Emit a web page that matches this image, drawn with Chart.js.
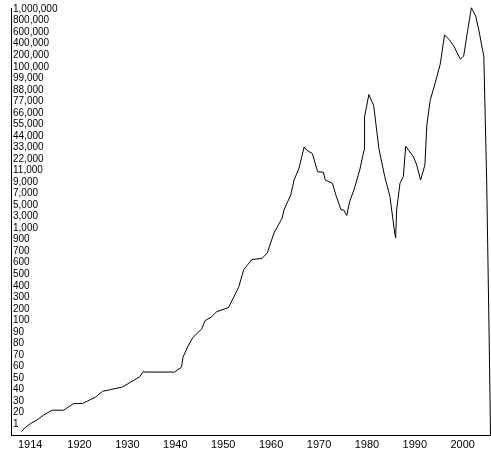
<!DOCTYPE html>
<html>
<head>
<meta charset="utf-8">
<script src="https://cdn.jsdelivr.net/npm/chart.js@4"></script>
<style>
  html, body { margin: 0; padding: 0; background: #fff; }
  #wrap { width: 491px; height: 451px; }
</style>
</head>
<body>
<div id="wrap"><canvas id="chart"></canvas></div>
<script>
// axis levels: the y axis steps through these values evenly (first and last are unlabelled)
const levels = [0, 1, 20, 30, 40, 50, 60, 70, 80, 90, 100, 200, 300, 400, 500, 600, 700, 900,
  1000, 3000, 5000, 7000, 9000, 11000, 22000, 33000, 44000, 55000, 66000, 77000, 88000, 99000,
  100000, 200000, 400000, 600000, 800000, 1000000, 1200000];
const xTicks = [1914, 1920, 1930, 1940, 1950, 1960, 1970, 1980, 1990, 2000];

const years = [1907.9, 1908.6, 1910.0, 1911.1, 1912.5, 1914.3, 1916.7, 1917.7, 1918.8, 1920.6,
  1921.6, 1923.4, 1924.8, 1926.5, 1929.0, 1930.7, 1932.5, 1933.4, 1933.5, 1939.8,
  1941.3, 1941.6, 1942.7, 1943.7, 1945.5, 1946.2, 1947.6, 1948.6, 1951.1, 1953.2,
  1954.3, 1956.0, 1958.1, 1959.2, 1960.2, 1960.6, 1962.3, 1962.7, 1964.1, 1964.8,
  1965.8, 1966.9, 1967.4, 1968.6, 1969.7, 1970.9, 1971.3, 1972.8, 1973.5, 1974.6,
  1975.1, 1975.8, 1976.4, 1977.3, 1978.5, 1979.4, 1979.5, 1980.4, 1981.4, 1982.5,
  1983.7, 1984.8, 1985.8, 1986.0, 1986.2, 1986.9, 1987.6, 1988.1, 1989.7, 1990.4,
  1991.2, 1992.1, 1992.5, 1993.2, 1994.3, 1995.3, 1996.2, 1997.1, 1998.1, 1999.5,
  2000.2, 2000.9, 2001.8, 2002.7, 2003.4, 2004.1, 2004.4, 2005.0, 2005.5, 2005.8];
const values = [0.34, 0.68, 3, 7.5, 15.8, 22, 22, 24.9, 27.8, 27.8,
  29.8, 33.5, 38.4, 39.9, 42.2, 46.5, 50.8, 55.9, 55.1, 55.1,
  59.4, 68, 78.1, 85.3, 92.5, 99.7, 131, 174, 211, 384,
  542, 628, 637, 685, 909, 958, 2740, 4180, 6780, 9360,
  12980, 33550, 30470, 27170, 10800, 10680, 9360, 8780, 6780, 4180,
  4180, 3200, 5620, 7640, 11440, 30470, 62000, 83500, 73150, 32000,
  10000, 6480, 958, 915, 4180, 8780, 9940, 34200, 24090, 16170,
  9360, 16170, 54100, 77900, 95300, 123000, 554000, 478000, 364000, 166000,
  192000, 564000, 1024000, 882000, 622000, 306000, 192000, 9060, 88.4, 0.05];

// position of a value on the stepped axis (index 0 = label "1")
function toPos(v) {
  for (let i = 0; i < levels.length - 1; i++) {
    if (v <= levels[i + 1]) return i - 1 + (v - levels[i]) / (levels[i + 1] - levels[i]);
  }
  return levels.length - 2;
}

const points = years.map((y, i) => ({ x: y, y: toPos(values[i]) }));
const FONT = { family: 'Liberation Sans, Arial, sans-serif', size: 11 };

new Chart(document.getElementById('chart'), {
  type: 'line',
  data: {
    datasets: [{
      data: points,
      borderColor: '#000',
      borderWidth: 1,
      pointRadius: 0,
      tension: 0,
      clip: false
    }]
  },
  options: {
    responsive: true,
    maintainAspectRatio: false,
    animation: false,
    layout: { padding: 0 },
    plugins: { legend: { display: false }, tooltip: { enabled: false } },
    scales: {
      x: {
        type: 'linear',
        min: 1905.7,
        max: 2005.9,
        afterBuildTicks: axis => {
          axis.ticks = xTicks.map(t => ({ value: t === 1914 ? 1909.7 : t }));
        },
        afterFit: axis => { axis.height = 16; },
        grid: { display: false, drawTicks: false },
        border: { color: '#000', width: 1 },
        ticks: {
          color: '#000',
          font: FONT,
          padding: 3,
          maxRotation: 0,
          autoSkip: false,
          callback: v => (v < 1915 ? '1914' : String(v))
        }
      },
      y: {
        type: 'linear',
        min: -0.95,
        max: 36.1,
        afterBuildTicks: axis => {
          const t = [];
          for (let i = 0; i <= 36; i++) t.push({ value: i });
          axis.ticks = t;
        },
        afterFit: axis => { axis.width = 11; },
        grid: { display: false, drawTicks: false },
        border: { color: '#000', width: 1 },
        ticks: {
          mirror: true,
          padding: 2,
          color: '#000',
          font: { family: FONT.family, size: 10 },
          autoSkip: false,
          callback: v => levels[v + 1].toLocaleString('en-US')
        }
      }
    }
  }
});
</script>
</body>
</html>
